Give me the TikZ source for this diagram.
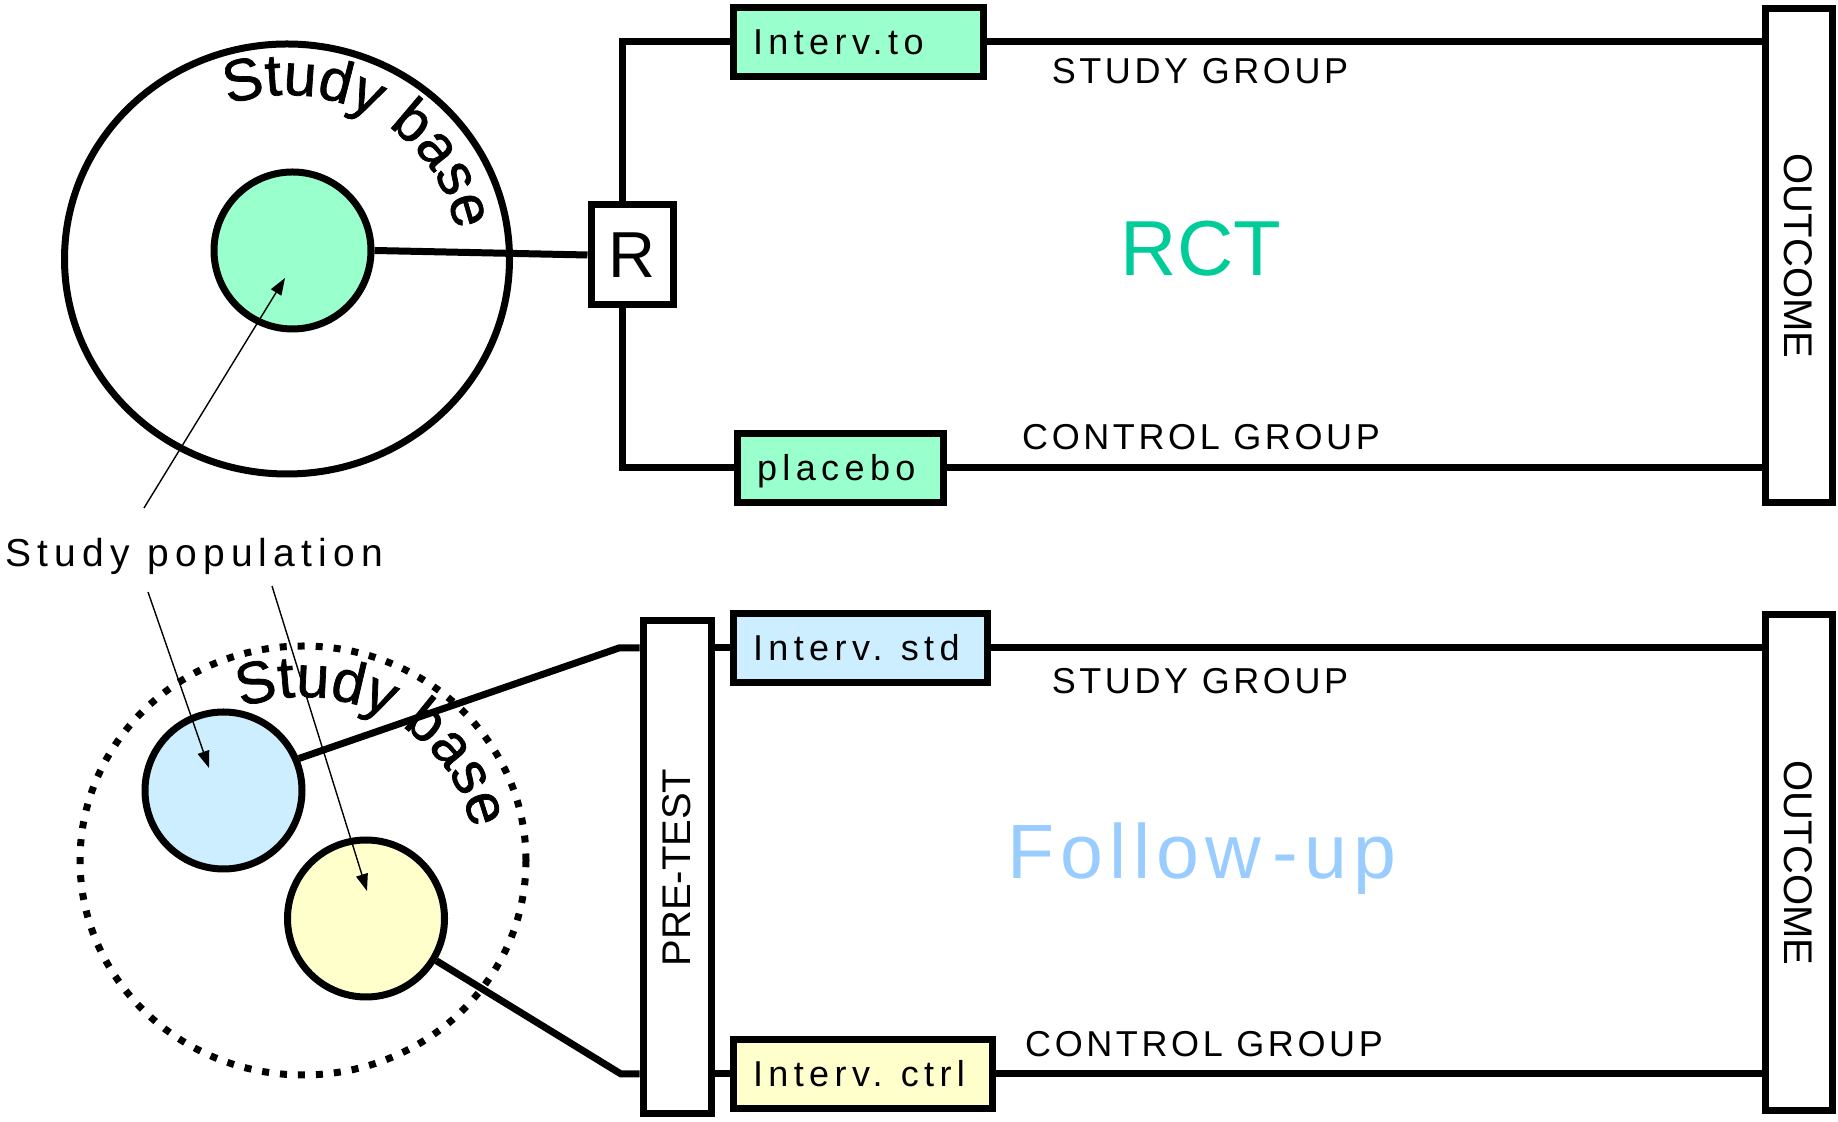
\documentclass[tikz,border=0pt]{standalone}
\usepackage{fontspec}
\setmainfont{Liberation Sans}
\newfontfamily\grpfont[LetterSpace=10]{Liberation Sans}
\newfontfamily\boxfont[LetterSpace=15]{Liberation Sans}
\newfontfamily\popfont[LetterSpace=16]{Liberation Sans}
\newfontfamily\fupfont[LetterSpace=8]{Liberation Sans}
\newfontfamily\sbfont[FakeBold=1.2]{Liberation Sans}
\usetikzlibrary{arrows.meta,decorations.text}
\definecolor{mint}{HTML}{99FFCC}
\definecolor{skyb}{HTML}{CCEEFF}
\definecolor{lyel}{HTML}{FFFFCC}
\definecolor{rctc}{HTML}{00CC99}
\definecolor{fupc}{HTML}{99CCFF}
\begin{document}
\begin{tikzpicture}[x=1pt,y=1pt,
  thickln/.style={line width=7pt},
  thinarr/.style={line width=1.4pt,-{Triangle[length=17pt,width=12pt]}},
  boxnode/.style={draw,line width=7pt,inner ysep=0pt,inner xsep=20pt,minimum height=69pt,
     text height=26pt,text depth=0pt,align=left,font=\boxfont\fontsize{36}{36}\selectfont},
  tallbox/.style={draw,line width=7pt,inner sep=0pt},
  vlabel/.style={font=\fontsize{40}{40}\selectfont},
  grplabel/.style={anchor=base,font=\grpfont\fontsize{36}{36}\selectfont},
  popcircle/.style={circle,draw,line width=7pt,inner sep=0pt,minimum size=157pt},
  basetext/.style={decorate,decoration={text along path,
     text={|\sbfont\fontsize{59}{59}\selectfont|Study base},text align=center}}
]
\useasboundingbox (0,0) rectangle (1838,1121);

% ---------- top: RCT ----------
\coordinate (c1) at (287,862);
\draw[thickln] (c1) ellipse[x radius=222.5,y radius=215];
\path[basetext] ([shift={(111:171.5 and 164)}]c1) arc[start angle=111,end angle=9,x radius=171.5,y radius=164];

\node[tallbox,minimum width=82pt,minimum height=100pt,font=\fontsize{65}{65}\selectfont] (R) at (632,866) {R};
\node[boxnode,fill=mint,text width=210pt] (ito) at (858,1079) {Interv.to};
\node[boxnode,fill=mint,text width=166pt] (plac) at (840,653) {placebo};
\node[tallbox,minimum width=67pt,minimum height=494pt] (out1) at (1798.5,865) {};
\node[vlabel,rotate=-90] (out1t) at (out1.center) {OUTCOME};

\coordinate (vx) at (622,0);
\draw[thickln] (R.north -| vx) |- (ito.west);
\draw[thickln] (R.south -| vx) |- (plac.west);
\draw[thickln] (ito.east) -- (ito.east -| out1.west);
\draw[thickln] (plac.east) -- (plac.east -| out1.west);

\node[popcircle,fill=mint] (green) at (292.5,870.5) {};
\draw[thickln] (green.east) -- (R.west);

\node[grplabel] (sg1) at (1200,1037) {STUDY GROUP};
\node[grplabel] (cg1) at (1201,671) {CONTROL GROUP};
\node[anchor=base,text=rctc,font=\fontsize{78}{78}\selectfont] (rct) at (1201,845.5) {RCT};

% ---------- bottom: follow-up ----------
\coordinate (c2) at (303,260.5);
\draw[line width=7pt,dash pattern=on 7pt off 11pt] (c2) ellipse[x radius=223,y radius=214.5];
\path[basetext] ([shift={(112:172 and 163.5)}]c2) arc[start angle=112,end angle=10,x radius=172,y radius=163.5];

\node[tallbox,minimum width=68pt,minimum height=493pt] (pre) at (677,253.5) {};
\node[vlabel,rotate=90] (pret) at (pre.center) {PRE-TEST};
\node[boxnode,fill=skyb,text width=214pt] (istd) at (860,473) {Interv. std};
\node[boxnode,fill=lyel,text width=219pt] (ictrl) at (862.5,47) {Interv. ctrl};
\node[tallbox,minimum width=67pt,minimum height=496pt] (out2) at (1798.5,258) {};
\node[vlabel,rotate=-90] (out2t) at (out2.center) {OUTCOME};

\node[popcircle,fill=skyb] (blue) at (223.5,330.5) {};
\node[popcircle,fill=lyel] (yel) at (366,202.5) {};

\coordinate (bk1) at (619,473);
\coordinate (bk2) at (621,47);
\draw[thickln] (blue.23) -- (bk1) -- (bk1 -| pre.west);
\draw[thickln] (yel.-31) -- (bk2) -- (bk2 -| pre.west);
\draw[thickln] (pre.east |- istd.west) -- (istd.west);
\draw[thickln] (pre.east |- ictrl.west) -- (ictrl.west);
\draw[thickln] (istd.east) -- (istd.east -| out2.west);
\draw[thickln] (ictrl.east) -- (ictrl.east -| out2.west);

\node[grplabel] (sg2) at (1200,427) {STUDY GROUP};
\node[grplabel] (cg2) at (1204,64) {CONTROL GROUP};
\node[anchor=base,text=fupc,font=\fupfont\fontsize{77}{77}\selectfont] (fup) at (1202,242) {Follow\hspace{0.15em}-up};

% ---------- study population ----------
\node[anchor=base west,font=\popfont\fontsize{39}{39}\selectfont] (pop) at (2,554) {Study population};
\coordinate (a1s) at (144,613);
\coordinate (a1e) at (285,843);
\coordinate (a2s) at (148,529);
\coordinate (a2e) at (209,353);
\coordinate (a3s) at (272,535);
\coordinate (a3e) at (367,230);
\draw[thinarr] (a1s) -- (a1e);
\draw[thinarr] (a2s) -- (a2e);
\draw[thinarr] (a3s) -- (a3e);
\end{tikzpicture}
\end{document}
